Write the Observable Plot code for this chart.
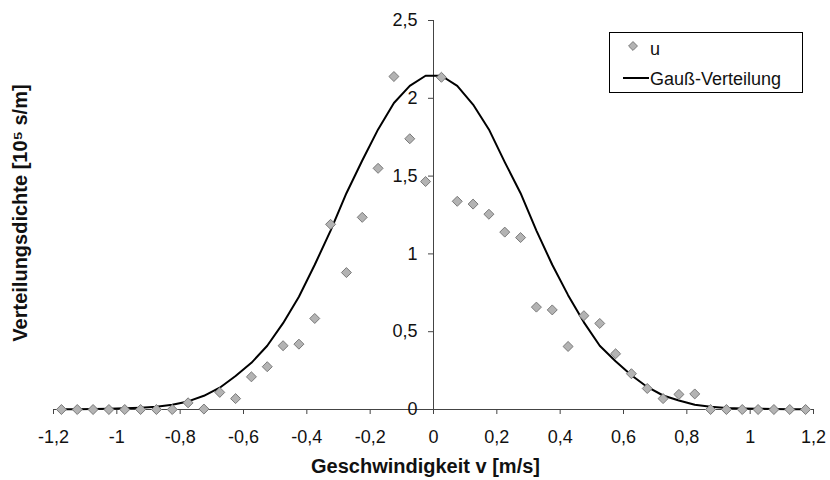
<!DOCTYPE html>
<html>
<head>
<meta charset="utf-8">
<script src="https://cdn.jsdelivr.net/npm/d3@7"></script>
<script src="https://cdn.jsdelivr.net/npm/@observablehq/plot@0.6"></script>
<style>
  body { margin: 0; background: #fff; }
  #wrap { position: relative; width: 830px; height: 480px; }
  #legend { position: absolute; left: 609px; top: 32px; }
</style>
</head>
<body>
<div id="wrap"></div>
<script>
// Geschwindigkeit v [m/s]
const v = [-1.175, -1.125, -1.075, -1.025, -0.975, -0.925, -0.875, -0.825,
  -0.775, -0.725, -0.675, -0.625, -0.575, -0.525, -0.475, -0.425,
  -0.375, -0.325, -0.275, -0.225, -0.175, -0.125, -0.075, -0.025,
  0.025, 0.075, 0.125, 0.175, 0.225, 0.275, 0.325, 0.375,
  0.425, 0.475, 0.525, 0.575, 0.625, 0.675, 0.725, 0.775,
  0.825, 0.875, 0.925, 0.975, 1.025, 1.075, 1.125, 1.175];
// Messwerte u
const u = [0, 0, 0, 0, 0, 0, 0, 0,
  0.043, 0.003, 0.11, 0.07, 0.21, 0.275, 0.41, 0.42,
  0.585, 1.19, 0.88, 1.235, 1.55, 2.14, 1.74, 1.465,
  2.135, 1.338, 1.32, 1.255, 1.14, 1.105, 0.658, 0.64,
  0.405, 0.603, 0.553, 0.358, 0.23, 0.135, 0.07, 0.097,
  0.10, 0, 0, 0, 0, 0, 0, 0];
// Gauß-Verteilung
const gauss = [0.002, 0.002, 0.003, 0.005, 0.008, 0.012, 0.018, 0.03,
  0.052, 0.088, 0.14, 0.215, 0.30, 0.41, 0.555, 0.725,
  0.93, 1.15, 1.39, 1.60, 1.80, 1.97, 2.08, 2.145,
  2.145, 2.08, 1.96, 1.80, 1.59, 1.39, 1.15, 0.93,
  0.735, 0.56, 0.41, 0.31, 0.22, 0.145, 0.09, 0.058,
  0.03, 0.017, 0.01, 0.007, 0.005, 0.003, 0.002, 0.002];

const xTicks = [-1.2, -1, -0.8, -0.6, -0.4, -0.2, 0, 0.2, 0.4, 0.6, 0.8, 1, 1.2];
const yTicks = [0, 0.5, 1, 1.5, 2, 2.5];
const xTitle = "Geschwindigkeit v [m/s]";
const yTitle = "Verteilungsdichte [10\u2075 s/m]";
const seriesNames = ["u", "Gauß-Verteilung"];

const data = v.map((x, i) => ({v: x, u: u[i], g: gauss[i]}));
const fmt = d => String(d).replace(".", ",");

const axisColor = "#444";
const textColor = "#111";
const font = "'Liberation Sans', Arial, sans-serif";

const chart = Plot.plot({
  width: 830,
  height: 480,
  marginLeft: 53,
  marginRight: 17,
  marginTop: 20,
  marginBottom: 71,
  x: {domain: [-1.2, 1.2]},
  y: {domain: [0, 2.5], axis: null},
  style: {fontFamily: font, fontSize: "18px", color: textColor, background: "#fff"},
  marks: [
    Plot.ruleY([0], {stroke: axisColor}),
    Plot.ruleX([0], {stroke: axisColor}),
    Plot.axisX({ticks: xTicks, tickFormat: fmt, tickSize: 5, tickPadding: 16, fontSize: 18,
      label: null, stroke: axisColor, fill: textColor}),
    Plot.ruleY(yTicks, {x1: 0, x2: 0, insetLeft: -5, stroke: axisColor}),
    Plot.text(yTicks, {x: 0, y: d => d, text: fmt, textAnchor: "end", dx: -16, fontSize: 18, fill: textColor}),
    Plot.line(data, {x: "v", y: "g", stroke: "#000", strokeWidth: 2}),
    Plot.dot(data, {x: "v", y: "u", symbol: "diamond2", r: 4.5, fill: "#b3b3b3", stroke: "#7a7a7a", strokeWidth: 1}),
    Plot.text([xTitle], {frameAnchor: "bottom", lineAnchor: "middle", textAnchor: "middle", dy: 57, dx: -8,
      fontWeight: "bold", fontSize: 20, fill: textColor}),
    Plot.text([yTitle], {frameAnchor: "left", rotate: -90, textAnchor: "middle", lineAnchor: "middle",
      dx: -33, dy: -2, fontWeight: "bold", fontSize: 20, fill: textColor})
  ]
});
document.getElementById("wrap").appendChild(chart);

// Legend
const lg = d3.create("svg").attr("id", "legend").attr("width", 195).attr("height", 62)
  .style("font-family", font).style("font-size", "18px");
lg.append("rect").attr("x", 0.5).attr("y", 0.5).attr("width", 193).attr("height", 60)
  .attr("fill", "#fff").attr("stroke", "#000");
lg.append("path").attr("d", d3.symbol(d3.symbolDiamond2, Math.PI * 4 * 4)())
  .attr("transform", "translate(24,14)").attr("fill", "#b3b3b3").attr("stroke", "#7a7a7a");
lg.append("text").attr("x", 41).attr("y", 17).attr("dy", "0.35em").attr("fill", textColor).text(seriesNames[0]);
lg.append("line").attr("x1", 14).attr("x2", 40).attr("y1", 46).attr("y2", 46)
  .attr("stroke", "#000").attr("stroke-width", 2);
lg.append("text").attr("x", 41).attr("y", 47).attr("dy", "0.35em").attr("fill", textColor).text(seriesNames[1]);
document.getElementById("wrap").appendChild(lg.node());
</script>
</body>
</html>
